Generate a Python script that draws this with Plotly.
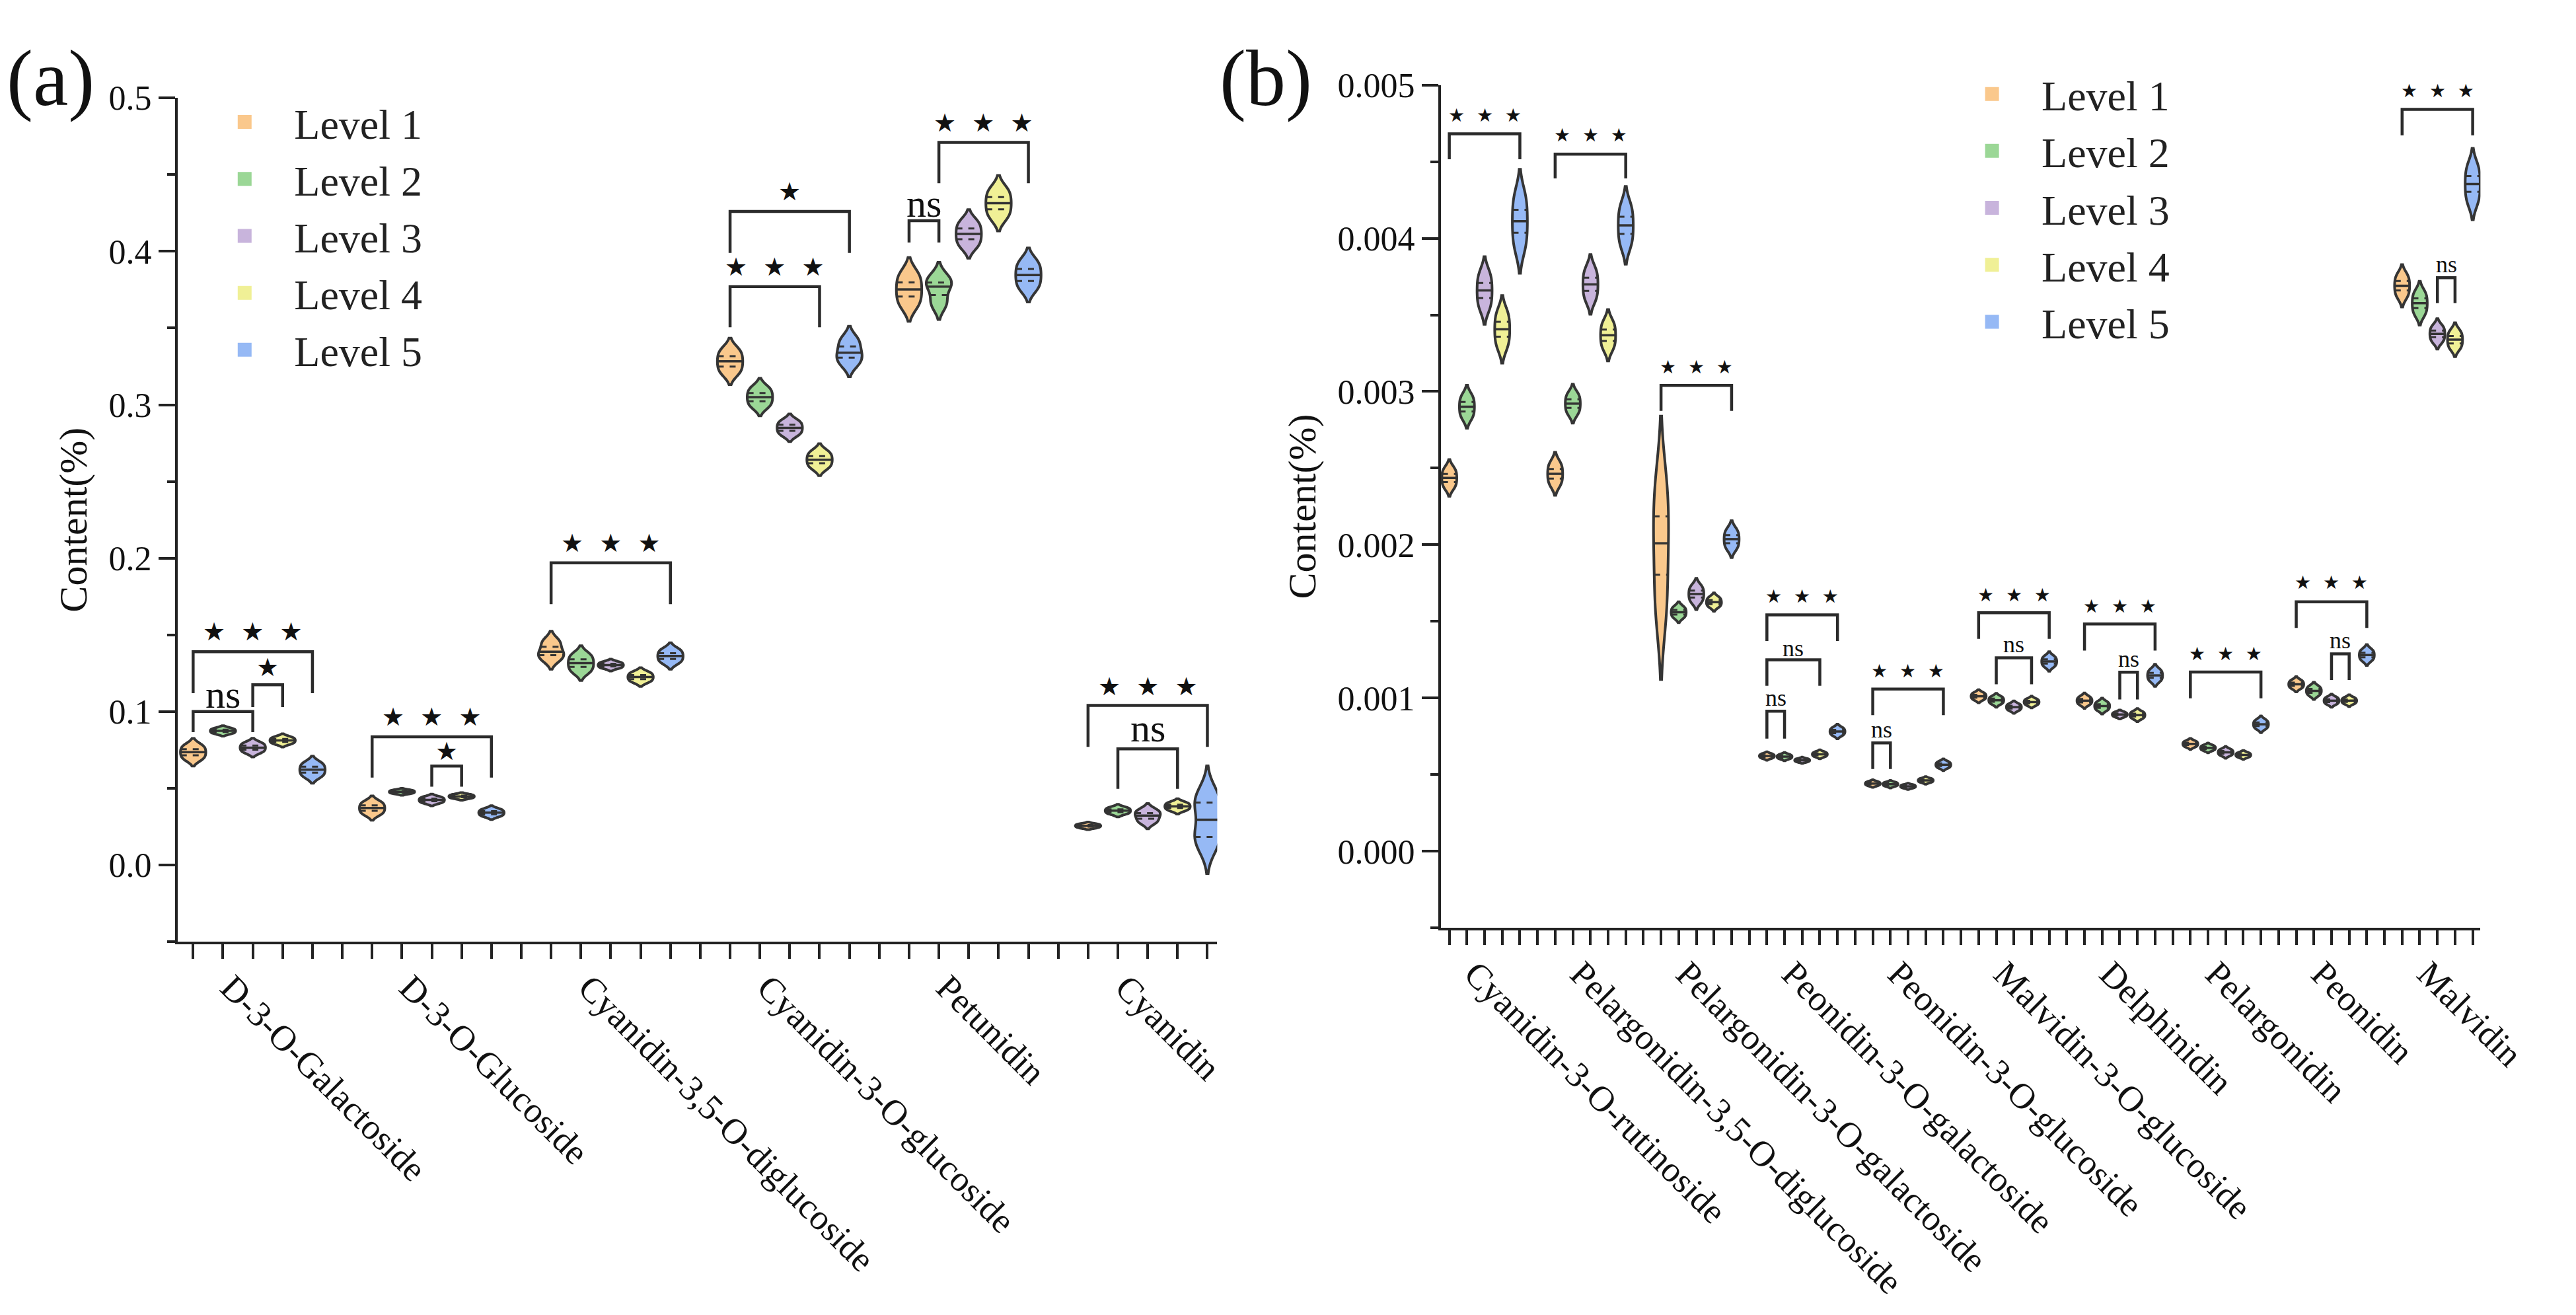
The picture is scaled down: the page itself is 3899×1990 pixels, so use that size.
import numpy as np
import plotly.graph_objects as go

# ---------------- data ----------------
levels = ["Level 1", "Level 2", "Level 3", "Level 4", "Level 5"]
level_colors = ["#FAC88C", "#9BD796", "#C8B4DC", "#F0F096", "#96B9F5"]

# Panel (a) categories and replicate values (Content, %) per level
cats_a = ["D-3-O-Galactoside", "D-3-O-Glucoside", "Cyanidin-3,5-O-diglucoside",
          "Cyanidin-3-O-glucoside", "Petunidin", "Cyanidin"]
a_d3o_galactoside = [[0.0695, 0.0735, 0.0775], [0.0859, 0.0874, 0.0889], [0.0738, 0.0765, 0.0792],
                     [0.0793, 0.0812, 0.0831], [0.0582, 0.0621, 0.0660]]
a_d3o_glucoside = [[0.0336, 0.0371, 0.0406], [0.0467, 0.0477, 0.0487], [0.0407, 0.0424, 0.0441],
                   [0.0436, 0.0447, 0.0458], [0.0321, 0.0341, 0.0361]]
a_cy35_diglucoside = [[0.1345, 0.1390, 0.1455], [0.1266, 0.1316, 0.1366], [0.1286, 0.1303, 0.1320],
                      [0.1198, 0.1225, 0.1252], [0.1324, 0.1362, 0.1400]]
a_cy3_glucoside = [[0.3216, 0.3283, 0.3350], [0.2996, 0.3050, 0.3104], [0.2810, 0.2850, 0.2890],
                   [0.2596, 0.2642, 0.2688], [0.3275, 0.3340, 0.3420]]
a_petunidin = [[0.3660, 0.3752, 0.3844], [0.3660, 0.3770, 0.3825], [0.4044, 0.4114, 0.4184],
               [0.4234, 0.4314, 0.4394], [0.3768, 0.3846, 0.3924]]
a_cyanidin = [[0.0244, 0.0255, 0.0266], [0.0336, 0.0354, 0.0372], [0.0282, 0.0322, 0.0355],
              [0.0360, 0.0382, 0.0404], [0.013, 0.016, 0.019, 0.022, 0.037, 0.040, 0.043, 0.046]]
groups_a = [a_d3o_galactoside, a_d3o_glucoside, a_cy35_diglucoside, a_cy3_glucoside, a_petunidin, a_cyanidin]

# Panel (b)
cats_b = ["Cyanidin-3-O-rutinoside", "Pelargonidin-3,5-O-diglucoside", "Pelargonidin-3-O-galactoside",
          "Peonidin-3-O-galactoside", "Peonidin-3-O-glucoside", "Malvidin-3-O-glucoside",
          "Delphinidin", "Pelargonidin", "Peonidin", "Malvidin"]
b_cy3_rutinoside = [[0.002383, 0.002436, 0.002489], [0.002839, 0.002901, 0.002963],
                    [0.0035615, 0.003659, 0.0037565], [0.0033085, 0.003406, 0.0035035],
                    [0.003961, 0.004111, 0.004261]]
b_pg35_diglucoside = [[0.002401, 0.002463, 0.002525], [0.002865, 0.002921, 0.002977],
                      [0.003613, 0.003699, 0.003785], [0.003293, 0.003367, 0.003441],
                      [0.003972, 0.004084, 0.004196]]
b_pg3_galactoside = [[0.00160, 0.00201, 0.00236], [0.00153, 0.00156, 0.00159],
                     [0.001634, 0.001679, 0.001724], [0.001600, 0.001626, 0.001653],
                     [0.001984, 0.002037, 0.002090]]
b_pn3_galactoside = [[0.000610, 0.000622, 0.000634], [0.000606, 0.000618, 0.000630],
                     [0.000585, 0.000594, 0.000603], [0.000620, 0.000633, 0.000646],
                     [0.000761, 0.000782, 0.000803]]
b_pn3_glucoside = [[0.000431, 0.000442, 0.000453], [0.000427, 0.000438, 0.000449],
                   [0.000415, 0.000424, 0.000433], [0.000452, 0.000463, 0.000474],
                   [0.000548, 0.000565, 0.000582]]
b_mv3_glucoside = [[0.000993, 0.001012, 0.001031], [0.000966, 0.000986, 0.001006],
                   [0.000923, 0.000941, 0.000959], [0.000957, 0.000974, 0.000991],
                   [0.001211, 0.001239, 0.001267]]
b_delphinidin = [[0.000961, 0.000983, 0.001005], [0.000925, 0.000948, 0.000971],
                 [0.000880, 0.000893, 0.000906], [0.000870, 0.000889, 0.000908],
                 [0.001116, 0.001148, 0.001180]]
b_pelargonidin = [[0.000685, 0.000701, 0.000717], [0.000661, 0.000675, 0.000689],
                  [0.000629, 0.000646, 0.000663], [0.000616, 0.000629, 0.000642],
                  [0.000805, 0.000829, 0.000853]]
b_peonidin = [[0.001068, 0.001090, 0.001112], [0.001022, 0.001047, 0.001072],
              [0.000964, 0.000983, 0.001002], [0.000966, 0.000983, 0.001000],
              [0.001251, 0.001281, 0.001311]]
b_malvidin = [[0.003629, 0.003690, 0.003751], [0.003513, 0.003576, 0.003639],
              [0.003332, 0.003376, 0.003420], [0.003289, 0.003338, 0.003387],
              [0.004251, 0.004354, 0.004457]]
groups_b = [b_cy3_rutinoside, b_pg35_diglucoside, b_pg3_galactoside, b_pn3_galactoside, b_pn3_glucoside,
            b_mv3_glucoside, b_delphinidin, b_pelargonidin, b_peonidin, b_malvidin]

# significance brackets: (group, level_from, level_to, bracket_top, leg_bottom, label, label_y)
STARS3 = "\u2605\u00a0\u00a0\u2605\u00a0\u00a0\u2605"
STAR1 = "\u2605"
sig_a = [
    (0, 0, 4, 0.139, 0.112, STARS3, 0.152), (0, 0, 2, 0.100, 0.0866, "ns", 0.111),
    (0, 2, 3, 0.1175, 0.103, STAR1, 0.129),
    (1, 0, 4, 0.0836, 0.057, STARS3, 0.0963), (1, 2, 3, 0.0645, 0.051, STAR1, 0.0743),
    (2, 0, 4, 0.197, 0.170, STARS3, 0.2097),
    (3, 0, 3, 0.377, 0.3505, STARS3, 0.3898), (3, 0, 4, 0.426, 0.399, STAR1, 0.439),
    (4, 0, 1, 0.420, 0.4058, "ns", 0.4314), (4, 1, 4, 0.471, 0.4444, STARS3, 0.4838),
    (5, 0, 4, 0.104, 0.077, STARS3, 0.1163), (5, 1, 3, 0.0757, 0.0496, "ns", 0.0891),
]
sig_b = [
    (0, 0, 4, 0.004681, 0.004515, STARS3, 0.00480),
    (1, 0, 4, 0.004549, 0.004390, STARS3, 0.004674),
    (2, 0, 4, 0.003040, 0.002874, STARS3, 0.003159),
    (3, 0, 4, 0.001543, 0.001373, STARS3, 0.001664), (3, 0, 3, 0.001250, 0.001080, "ns", 0.001324),
    (3, 0, 1, 0.000914, 0.000736, "ns", 0.001000),
    (4, 0, 4, 0.001059, 0.000889, STARS3, 0.001175), (4, 0, 1, 0.000707, 0.000537, "ns", 0.000796),
    (5, 0, 4, 0.001557, 0.001387, STARS3, 0.001671), (5, 1, 3, 0.001263, 0.001090, "ns", 0.001352),
    (6, 0, 4, 0.001484, 0.001310, STARS3, 0.001600), (6, 2, 3, 0.001169, 0.000991, "ns", 0.001256),
    (7, 0, 4, 0.001170, 0.000999, STARS3, 0.001288),
    (8, 0, 4, 0.001628, 0.001458, STARS3, 0.001752), (8, 2, 3, 0.001288, 0.001118, "ns", 0.001378),
    (9, 0, 4, 0.004841, 0.004672, STARS3, 0.004962), (9, 2, 3, 0.003742, 0.003576, "ns", 0.003831),
]

# ---------------- style ----------------
W, H = 3899, 1990
SERIF = "Liberation Serif, Times New Roman, serif"
STARFONT = "DejaVu Sans"
VW = 0.85            # violin width (data units)
OUTLINE = "#353535"
AXC = "#222222"
SLOT = 6             # 5 levels + 1 gap per compound
LABEL_SLOT = 1       # category label sits at the 2nd violin of each compound


def pos_of(g, li):
    return g * SLOT + li + 1


def silverman(s):
    s = np.asarray(s, float)
    sd = np.std(s, ddof=1)
    q1, q3 = np.percentile(s, [25, 75])
    a = min(sd, (q3 - q1) / 1.349) if q3 > q1 else sd
    return 1.059 * a * len(s) ** -0.2


def kde(t, s, bw):
    s = np.asarray(s, float)
    t = np.atleast_1d(t)[:, None]
    return np.exp(-0.5 * ((t - s[None, :]) / bw) ** 2).sum(axis=1) / (len(s) * bw * np.sqrt(2 * np.pi))


fig = go.Figure()


def add_panel(groups, xa, ya):
    med_x, med_y, q_x, q_y = [], [], [], []
    for g, samples in enumerate(groups):
        for li, s in enumerate(samples):
            p = pos_of(g, li)
            bw = silverman(s)
            fig.add_trace(go.Violin(
                x=[p] * len(s), y=s, xaxis=xa, yaxis=ya, width=VW, bandwidth=bw,
                spanmode="soft", points=False, fillcolor=level_colors[li],
                line=dict(color=OUTLINE, width=4), showlegend=False, hoverinfo="skip",
                scalemode="width", opacity=1))
            grid = np.linspace(min(s) - 2 * bw, max(s) + 2 * bw, 400)
            kmax = kde(grid, s, bw).max()
            q1, md, q3 = np.percentile(s, [25, 50, 75])
            for q, xs, ys in ((md, med_x, med_y), (q1, q_x, q_y), (q3, q_x, q_y)):
                hw = VW / 2 * kde(q, s, bw)[0] / kmax
                xs += [p - hw, p + hw, None]
                ys += [q, q, None]
    fig.add_trace(go.Scatter(x=med_x, y=med_y, xaxis=xa, yaxis=ya, mode="lines",
                             line=dict(color="#333333", width=3.5), showlegend=False, hoverinfo="skip"))
    fig.add_trace(go.Scatter(x=q_x, y=q_y, xaxis=xa, yaxis=ya, mode="lines",
                             line=dict(color="#333333", width=3, dash="dash"),
                             showlegend=False, hoverinfo="skip"))


add_panel(groups_a, "x", "y")
add_panel(groups_b, "x2", "y2")

# legend entries
for li, (name, col) in enumerate(zip(levels, level_colors)):
    for lg, xa, ya in (("legend", "x", "y"), ("legend2", "x2", "y2")):
        fig.add_trace(go.Scatter(x=[None], y=[None], xaxis=xa, yaxis=ya, mode="markers", name=name,
                                 marker=dict(symbol="square", size=16, color=col,
                                             line=dict(color=col, width=5)), legend=lg))

shapes, annos = [], []


def add_sig(sigs, xref, yref, star_size, ns_size):
    for g, i, j, top, bot, lab, ly in sigs:
        x1, x2 = pos_of(g, i), pos_of(g, j)
        shapes.append(dict(type="path", xref=xref, yref=yref,
                           path=f"M {x1},{bot} L {x1},{top} L {x2},{top} L {x2},{bot}",
                           line=dict(color="#2b2b2b", width=4.5)))
        is_ns = lab == "ns"
        annos.append(dict(x=(x1 + x2) / 2, y=ly, xref=xref, yref=yref, text=lab, showarrow=False,
                          xanchor="center", yanchor="middle",
                          font=dict(family=SERIF if is_ns else STARFONT,
                                    size=ns_size if is_ns else star_size, color="#111111")))


add_sig(sig_a, "x", "y", 38, 60)
add_sig(sig_b, "x2", "y2", 28, 36)

annos.append(dict(x=0.002, y=1 - 92 / H, xref="paper", yref="paper", text="(a)", showarrow=False,
                  xanchor="left", yanchor="middle", font=dict(family=SERIF, size=120, color="#111")))
annos.append(dict(x=1880 / W, y=1 - 92 / H, xref="paper", yref="paper", text="(b)", showarrow=False,
                  xanchor="left", yanchor="middle", font=dict(family=SERIF, size=120, color="#111")))


def xaxis_cfg(domain, rng, n_groups, cats):
    vals = list(range(1, n_groups * SLOT))
    text = [cats[(v - 1) // SLOT] if (v - 1) % SLOT == LABEL_SLOT else "" for v in vals]
    return dict(domain=domain, range=rng, tickmode="array", tickvals=vals, ticktext=text,
                tickangle=45, ticks="outside", ticklen=22, tickwidth=4, tickcolor=AXC,
                ticklabelstandoff=-10, ticklabelshift=12,
                showline=True, linewidth=4, linecolor=AXC, showgrid=False, zeroline=False,
                tickfont=dict(family=SERIF, size=54, color="#111"))


def yaxis_cfg(domain, rng, dtick, fmt, anchor):
    return dict(domain=domain, range=rng, anchor=anchor, dtick=dtick, tick0=0, tickformat=fmt,
                ticks="outside", ticklen=25, tickwidth=4, tickcolor=AXC,
                minor=dict(dtick=dtick / 2, ticks="outside", ticklen=12, tickwidth=4, tickcolor=AXC),
                showline=True, linewidth=4, linecolor=AXC, showgrid=False, zeroline=False,
                tickfont=dict(family=SERIF, size=52, color="#111"),
                title=dict(text="Content(%)", font=dict(family=SERIF, size=60, color="#111"), standoff=14))


fig.update_layout(
    width=W, height=H, margin=dict(l=0, r=0, t=0, b=0),
    paper_bgcolor="white", plot_bgcolor="white", violinmode="overlay",
    xaxis=dict(anchor="y", **xaxis_cfg([274 / W, 1878 / W], [0.479, 35.33], 6, cats_a)),
    yaxis=yaxis_cfg([(H - 1417) / H, (H - 122) / H], [-0.05, 0.5], 0.1, ".1f", "x"),
    xaxis2=dict(anchor="y2", **xaxis_cfg([2223 / W, 3827 / W], [0.52, 59.44], 10, cats_b)),
    yaxis2=yaxis_cfg([(H - 1396) / H, (H - 102) / H], [-0.0005, 0.005], 0.001, ".3f", "x2"),
    shapes=shapes, annotations=annos,
    legend=dict(x=301 / W, y=1 - 110 / H, xanchor="left", yanchor="top", itemwidth=140,
                font=dict(family=SERIF, size=64, color="#222"), bgcolor="rgba(0,0,0,0)",
                tracegroupgap=0),
    legend2=dict(x=2997 / W, y=1 - 67 / H, xanchor="left", yanchor="top", itemwidth=140,
                 font=dict(family=SERIF, size=64, color="#222"), bgcolor="rgba(0,0,0,0)",
                 tracegroupgap=0),
)

post = ("document.documentElement.style.margin='0';document.body.style.margin='0';"
        "document.body.style.padding='0';document.body.style.overflow='hidden';")
fig.write_html("out.html", config={"displayModeBar": False}, post_script=post)
